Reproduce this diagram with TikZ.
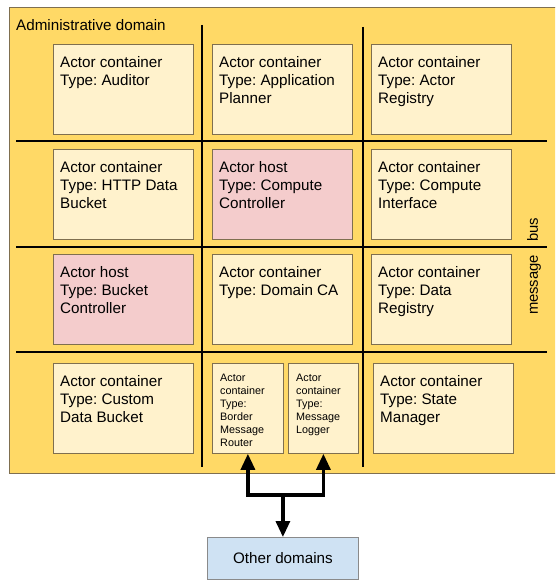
\documentclass[tikz,border=0pt]{standalone}
\usepackage{fontspec}
\setmainfont{Liberation Sans}
\usetikzlibrary{arrows.meta}
\frenchspacing
\definecolor{domyellow}{HTML}{FFD966}
\definecolor{boxfill}{HTML}{FFF2CC}
\definecolor{pinkfill}{HTML}{F4CCCC}
\definecolor{bluefill}{HTML}{CFE2F3}
\definecolor{brownline}{HTML}{7F6F4F}
\definecolor{grayline}{HTML}{8A8A8A}
\tikzset{
  cbox/.style={draw=brownline, line width=0.8pt, fill=boxfill, anchor=north west,
    minimum width=140pt, minimum height=90pt, inner sep=0pt},
  hbox/.style={cbox, fill=pinkfill},
  sbox/.style={cbox, minimum width=71pt},
  ctext/.style={anchor=north west, inner xsep=7pt, inner ysep=12pt, align=left,
    font=\fontsize{15.2}{18}\selectfont},
  stext/.style={anchor=north west, inner xsep=8pt, inner ysep=11pt, align=left,
    font=\fontsize{10.8}{13}\selectfont},
  busline/.style={line width=2.6pt, black},
  arr/.style={line width=3.2pt, black, -{Triangle[width=14pt,length=16pt]}},
}
\begin{document}
\begin{tikzpicture}[x=1pt,y=-1pt]
\useasboundingbox (0,0) rectangle (555,580);
\clip (0,0) rectangle (555,580);
% administrative domain
\node[draw=brownline, line width=1pt, fill=domyellow, anchor=north west, minimum width=550pt, minimum height=466pt, inner sep=0pt] (dom) at (9,7) {};
\node[anchor=north west, inner sep=0pt, font=\fontsize{15.2}{18}\selectfont] (title) at (16,19) {Administrative domain};
% message bus
\coordinate (v1t) at (202,25); \coordinate (v1b) at (202,467);
\coordinate (v2t) at (363,27); \coordinate (v2b) at (363,467);
\coordinate (h1l) at (16,141); \coordinate (h1r) at (547,141);
\coordinate (h2l) at (16,247); \coordinate (h2r) at (547,247);
\coordinate (h3l) at (16,352); \coordinate (h3r) at (547,352);
\draw[busline] (v1t) -- (v1b);
\draw[busline] (v2t) -- (v2b);
\draw[busline] (h1l) -- (h1r);
\draw[busline] (h2l) -- (h2r);
\draw[busline] (h3l) -- (h3r);
\node[rotate=90, inner sep=0pt, font=\fontsize{14.8}{16}\selectfont] (bus) at (534,266.5) {message\hspace{13pt}bus};
% row 1
\node[cbox] (aud) at (53,44) {};
\node[ctext] at (aud.north west) {Actor container\\Type: Auditor};
\node[cbox] (plan) at (212,44) {};
\node[ctext] at (plan.north west) {Actor container\\Type: Application\\Planner};
\node[cbox] (reg) at (371,44) {};
\node[ctext] at (reg.north west) {Actor container\\Type: Actor\\Registry};
% row 2
\node[cbox] (http) at (53,149) {};
\node[ctext] at (http.north west) {Actor container\\Type: HTTP Data\\Bucket};
\node[hbox] (cctrl) at (212,149) {};
\node[ctext] at (cctrl.north west) {Actor host\\Type: Compute\\Controller};
\node[cbox] (cint) at (371,149) {};
\node[ctext] at (cint.north west) {Actor container\\Type: Compute\\Interface};
% row 3
\node[hbox] (bctrl) at (53,254) {};
\node[ctext] at (bctrl.north west) {Actor host\\Type: Bucket\\Controller};
\node[cbox] (ca) at (212,254) {};
\node[ctext] at (ca.north west) {Actor container\\Type: Domain CA};
\node[cbox] (dreg) at (371,254) {};
\node[ctext] at (dreg.north west) {Actor container\\Type: Data\\Registry};
% row 4
\node[cbox] (cdb) at (53,363) {};
\node[ctext] at (cdb.north west) {Actor container\\Type: Custom\\Data Bucket};
\node[sbox] (router) at (212,363) {};
\node[stext] at (router.north west) {Actor\\container\\Type:\\Border\\Message\\Router};
\node[sbox, minimum width=70pt] (logger) at (288,363) {};
\node[stext] at (logger.north west) {Actor\\container\\Type:\\Message\\Logger};
\node[cbox] (state) at (373,363) {};
\node[ctext] at (state.north west) {Actor container\\Type: State\\Manager};
% other domains
\node[draw=grayline, line width=0.8pt, fill=bluefill, anchor=north west, minimum width=151pt, minimum height=42pt, inner sep=0pt, font=\fontsize{15.2}{18}\selectfont] (other) at (207,537) {Other domains};
% connectors
\coordinate (j) at (other.north |- 0,495);
\draw[arr] (j) -| (router.south);
\draw[arr] (j) -| (logger.south);
\draw[arr] (j) -- (other.north);
\end{tikzpicture}
\end{document}
